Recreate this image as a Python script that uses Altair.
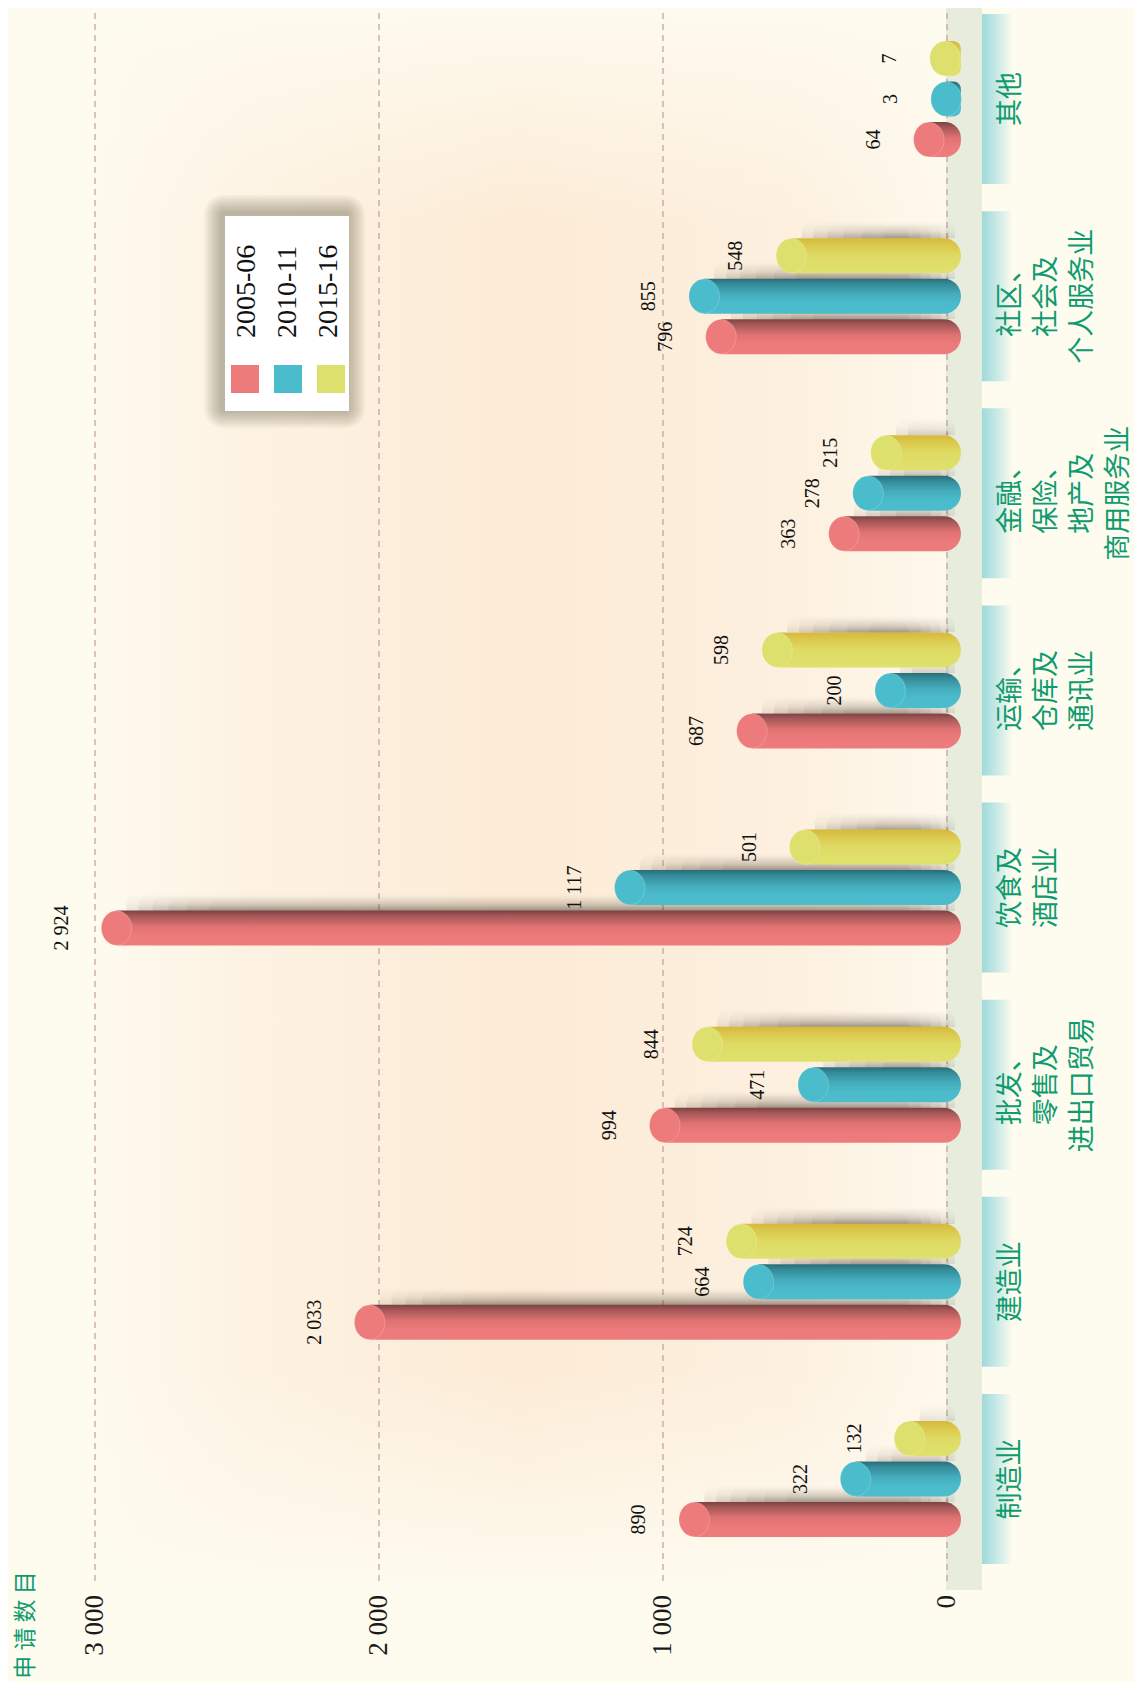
import altair as alt
import pandas as pd

# ---------------- data ----------------
categories = ["制造业", "建造业", "批发、零售及进出口贸易", "饮食及酒店业",
              "运输、仓库及通讯业", "金融、保险、地产及商用服务业",
              "社区、社会及个人服务业", "其他"]
category_lines = ["制造业", "建造业", "批发、\n零售及\n进出口贸易", "饮食及\n酒店业",
                  "运输、\n仓库及\n通讯业", "金融、\n保险、\n地产及\n商用服务业",
                  "社区、\n社会及\n个人服务业", "其他"]
series = ["2005-06", "2010-11", "2015-16"]
v_2005 = [890, 2033, 994, 2924, 687, 363, 796, 64]
v_2010 = [322, 664, 471, 1117, 200, 278, 855, 3]
v_2015 = [132, 724, 844, 501, 598, 215, 548, 7]
ticks = [0, 1000, 2000, 3000]
tick_labels = ["0", "1 000", "2 000", "3 000"]
axis_title = "申 请 数 目"

# ---------------- styles ----------------
colors = ["#ee7b7b", "#4bbccb", "#dee06d"]
body_stops = [
    [("#7c4242", 0), ("#a55757", 0.15), ("#df7272", 0.45), ("#ec7a7a", 0.7), ("#ee7c7c", 1)],
    [("#2a6c78", 0), ("#348a98", 0.15), ("#45adbc", 0.45), ("#4bbbcb", 0.7), ("#4cbdcc", 1)],
    [("#d5b93c", 0), ("#dbc84c", 0.2), ("#dedb64", 0.5), ("#dfe16e", 1)],
]
GREEN = "#0f9b70"
SERIF = "Liberation Serif"
CJK = "Noto Sans CJK SC"
W, H = 852, 1569
PX_PER_UNIT = W / 3000
BAR_BASE = -49  # cylinders rest slightly beyond the zero line, on the floor

values = [v_2005, v_2010, v_2015]
rows = []
for s, vals in zip(series, values):
    for c, v in zip(categories, vals):
        rows.append({"cat": c, "series": s, "v": v,
                     "label": f"{v:,}".replace(",", " ")})
df = pd.DataFrame(rows)
cat_df = pd.DataFrame({"cat": categories, "lines": category_lines})
tick_df = pd.DataFrame({"t": ticks, "lab": tick_labels})
one = pd.DataFrame({"k": [0]})

xscale = alt.Scale(domain=[0, 3000], reverse=True, nice=False, zero=True)
yscale = alt.Scale(domain=list(reversed(categories)), paddingInner=0.4116,
                   paddingOuter=0.18515, align=0.3836)
yoff = alt.Scale(domain=["2015-16", "2010-11", "2005-06"], paddingInner=0.136, paddingOuter=0)

X = alt.X("v:Q", scale=xscale, axis=None)
X2 = alt.X2(datum=BAR_BASE)
Y = alt.Y("cat:N", scale=yscale, axis=None)
YO = alt.YOffset("series:N", scale=yoff)


def lin(stops, vertical=True):
    return {"gradient": "linear", "x1": 0, "y1": 0,
            "x2": 0 if vertical else 1, "y2": 1 if vertical else 0,
            "stops": [{"offset": o, "color": c} for c, o in stops]}


layers = []
# background glow
layers.append(alt.Chart(one).mark_rect(fill=lin([
    ("#fefaee", 0), ("#fdf2e2", 0.18), ("#fcebd6", 0.5), ("#fdf0df", 0.82), ("#fef9ec", 1)], vertical=False)
).encode(x=alt.value(0), x2=alt.value(W), y=alt.value(-13), y2=alt.value(H + 10)))
layers.append(alt.Chart(one).mark_rect(fill=lin([
    ("rgba(254,251,239,1)", 0), ("rgba(254,251,239,0)", 0.14),
    ("rgba(254,251,239,0)", 0.86), ("rgba(254,251,239,1)", 1)])
).encode(x=alt.value(-2), x2=alt.value(W + 2), y=alt.value(-13), y2=alt.value(H + 10)))

# floor
layers.append(alt.Chart(one).mark_rect(color="#e8ecdc").encode(
    x=alt.value(851), x2=alt.value(887), y=alt.value(-10), y2=alt.value(1577)))

# gridlines
layers.append(alt.Chart(tick_df).mark_rule(strokeDash=[6, 5], color="#bf9f9a", strokeWidth=1.2).encode(
    x=alt.X("t:Q", scale=xscale, axis=None), y=alt.value(0), y2=alt.value(H)))

# category label boxes
layers.append(alt.Chart(cat_df).mark_bar(height=170, fill=lin([
    ("#9fd9da", 0), ("#cdebe8", 0.55), ("#fdfaee", 1)], vertical=False)).encode(
    y=Y, x=alt.value(887), x2=alt.value(917)))

# bar shadows: several soft, progressively inset layers
def shadow(a):
    return lin([("rgba(55,40,30,0)", 0), ("rgba(55,40,30,%.3f)" % (a * 0.35), 0.14),
                ("rgba(55,40,30,%.3f)" % a, 0.249), ("rgba(0,0,0,0)", 0.25), ("rgba(0,0,0,0)", 1)])


insets = [(10, 6), (22, 12), (36, 20), (52, 30), (70, 40), (92, 52)]
for s in series:
    d = df[df.series == s]
    for j, (l, r) in enumerate(insets):
        min_v = (l + r + 10) / PX_PER_UNIT
        layers.append(alt.Chart(d).transform_filter(alt.datum.v >= min_v).mark_bar(
            height=70 - 2 * j, fill=shadow(0.11), xOffset=l, x2Offset=-r, cornerRadius=12).encode(
            x=X, x2=X2, y=Y, yOffset=YO))

# bar bodies and caps
ellipse = ("M0.886,0 C0.886,0.5523 0.4893,1 0,1 C-0.4893,1 -0.886,0.5523 -0.886,0 "
           "C-0.886,-0.5523 -0.4893,-1 0,-1 C0.4893,-1 0.886,-0.5523 0.886,0 Z")
for i, s in enumerate(series):
    d = df[df.series == s]
    layers.append(alt.Chart(d).mark_bar(
        fill=lin(body_stops[i]), cornerRadiusTopRight=17, cornerRadiusBottomRight=17).encode(
        x=X, x2=X2, y=Y, yOffset=YO))
for i, s in enumerate(series):
    d = df[df.series == s]
    layers.append(alt.Chart(d).mark_point(
        shape=ellipse, size=1190, filled=True, fill=colors[i], opacity=1,
        stroke="#ffffff", strokeOpacity=0.25, strokeWidth=0.8).encode(
        x=X, y=Y, yOffset=YO))

# value labels
layers.append(alt.Chart(df).mark_text(
    angle=270, font=SERIF, fontSize=20, color="#111111", xOffset=-55,
    align="center", baseline="middle").encode(x=X, y=Y, yOffset=YO, text="label:N"))

# category labels
layers.append(alt.Chart(cat_df).mark_text(
    angle=270, align="center", baseline="top", lineBreak="\n", lineHeight=36,
    font=CJK, fontSize=27, color=GREEN).encode(
    x=alt.value(903), y=Y, text="lines:N"))

# tick labels
layers.append(alt.Chart(tick_df).mark_text(
    angle=270, align="right", baseline="middle", font=SERIF, fontSize=27, color="#1a1a1a").encode(
    x=alt.X("t:Q", scale=xscale, axis=None), y=alt.value(1582), text="lab:N"))

# axis title
layers.append(alt.Chart(one).mark_text(
    angle=270, align="center", baseline="middle", font=CJK, fontSize=23, color=GREEN).encode(
    x=alt.value(-69), y=alt.value(1612), text=alt.value(axis_title)))

# legend
bx0, bx1, by0, by1 = 130, 254, 203, 398
for k in range(9, 0, -1):
    e = 2 * k
    layers.append(alt.Chart(one).mark_rect(color="#3e3226", opacity=0.04, cornerRadius=e + 2).encode(
        x=alt.value(bx0 - e - 3), x2=alt.value(bx1 + e - 2),
        y=alt.value(by0 - e - 3), y2=alt.value(by1 + e - 1)))
layers.append(alt.Chart(one).mark_rect(color="#ffffff").encode(
    x=alt.value(bx0), x2=alt.value(bx1), y=alt.value(by0), y2=alt.value(by1)))
for i, s in enumerate(series):
    cx = 150 + 43 * i
    layers.append(alt.Chart(one).mark_rect(color=colors[i]).encode(
        x=alt.value(cx - 14), x2=alt.value(cx + 14), y=alt.value(352), y2=alt.value(380)))
    layers.append(alt.Chart(one).mark_text(
        angle=270, align="left", baseline="middle", font=SERIF, fontSize=28, color="#111111").encode(
        x=alt.value(152 + 41 * i), y=alt.value(325), text=alt.value(s)))

chart = alt.layer(*layers).properties(
    width=W, height=H,
    autosize=alt.AutoSizeParams(type="none"),
    padding={"left": 87, "top": 5, "right": 187, "bottom": 100},
    background="#fefbef",
).configure_view(stroke=None)

chart.save("out.html", embed_options={"renderer": "svg", "actions": False})
